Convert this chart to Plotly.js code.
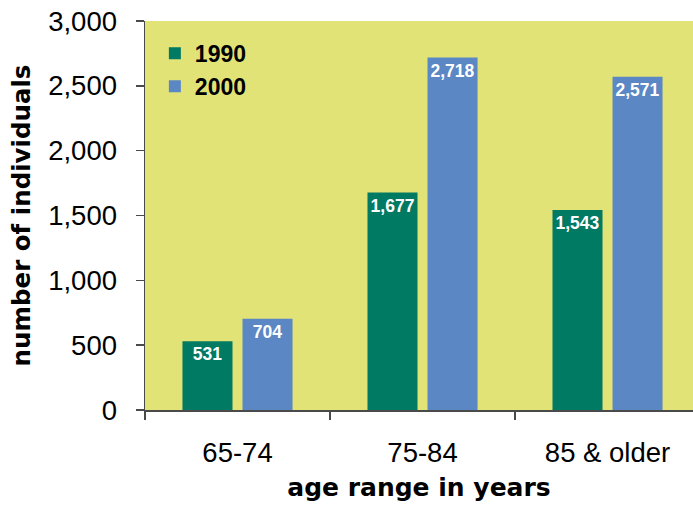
<!DOCTYPE html>
<html>
<head>
<meta charset="utf-8">
<script src="https://cdn.plot.ly/plotly-3.0.1.min.js"></script>
<style>html,body{margin:0;padding:0;overflow:hidden;background:#fff}#chart{width:693px;height:505px}</style>
</head>
<body>
<div id="chart"></div>
<script>
const categories = ["65-74", "75-84", "85 & older"];
const series1990 = [531, 1677, 1543];
const series2000 = [704, 2718, 2571];
const yTickVals = [0, 500, 1000, 1500, 2000, 2500, 3000];
const yTickText = ["0", "500", "1,000", "1,500", "2,000", "2,500", "3,000"];

const fmt = v => v.toLocaleString('en-US');

const labelFont = {family: 'Liberation Sans, Arial, sans-serif', size: 17.5, color: '#ffffff', weight: 'bold'};

const traces = [
  {type: 'bar', name: '<b>1990</b>', x: categories, y: series1990,
   marker: {color: '#007A63'}, text: series1990.map(fmt), textposition: 'inside',
   insidetextanchor: 'end', textangle: 0, constraintext: 'none', textfont: labelFont, hoverinfo: 'none'},
  {type: 'bar', name: '<b>2000</b>', x: categories, y: series2000,
   marker: {color: '#5B87C5'}, text: series2000.map(fmt), textposition: 'inside',
   insidetextanchor: 'end', textangle: 0, constraintext: 'none', textfont: labelFont, hoverinfo: 'none'}
];

const layout = {
  width: 693, height: 505,
  margin: {l: 145, r: 0, t: 21, b: 95, pad: 0},
  paper_bgcolor: '#ffffff',
  plot_bgcolor: '#E2E377',
  font: {family: 'Liberation Sans, Arial, sans-serif', color: '#000000'},
  barmode: 'group',
  bargap: 0.351,
  bargroupgap: 0.1667,
  showlegend: true,
  legend: {x: 0.018, y: 0.972, xanchor: 'left', yanchor: 'top', bgcolor: 'rgba(0,0,0,0)',
           font: {size: 23, color: '#000'}, itemwidth: 30, tracegroupgap: 0, traceorder: 'normal'},
  xaxis: {
    type: 'category', range: [-0.5, 2.462], fixedrange: true,
    showline: true, linecolor: '#4a4a4a', linewidth: 1.5,
    ticks: 'outside', ticklen: 8, tickcolor: '#4a4a4a', tickwidth: 1.5, tickson: 'boundaries',
    showgrid: false, zeroline: false,
    tickfont: {size: 27.5, color: '#000'},
    ticklabelstandoff: 17,
    title: {text: '<b>age range in years</b>', font: {family: 'DejaVu Sans, sans-serif', size: 25, color: '#000'}, standoff: 12}
  },
  yaxis: {
    range: [0, 3000], fixedrange: true,
    tickvals: yTickVals, ticktext: yTickText,
    showline: true, linecolor: '#4a4a4a', linewidth: 1.5,
    ticks: 'outside', ticklen: 8, tickcolor: '#4a4a4a', tickwidth: 1.5,
    showgrid: false, zeroline: false,
    tickfont: {size: 27.5, color: '#000'},
    ticklabelstandoff: 13,
    title: {text: '<b>number of individuals</b>', font: {family: 'DejaVu Sans, sans-serif', size: 24.5, color: '#000'}, standoff: 10}
  }
};

Plotly.newPlot('chart', traces, layout, {displayModeBar: false, staticPlot: true});
</script>
</body>
</html>
